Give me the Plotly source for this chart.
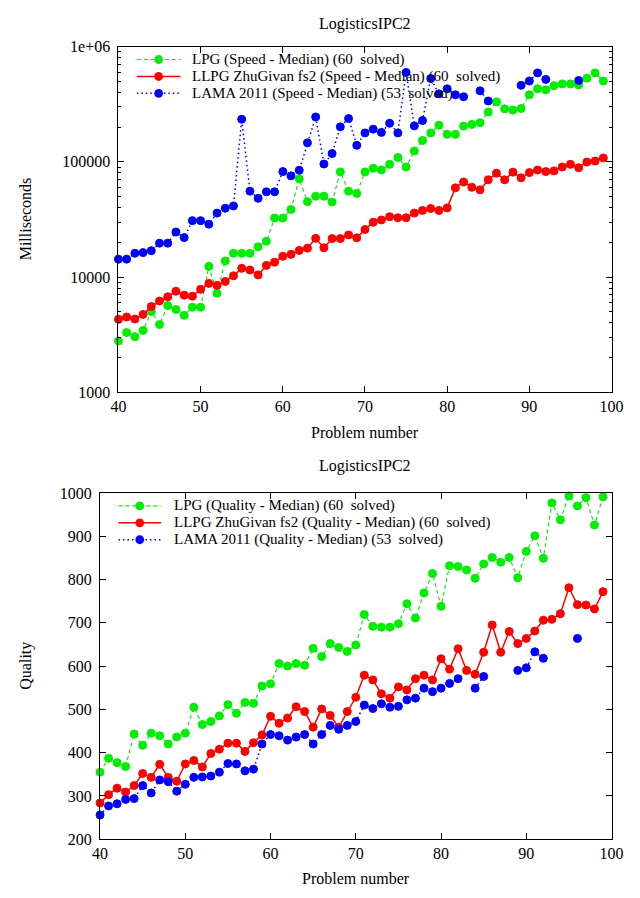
import plotly.graph_objects as go

W, H = 640, 898

problems = list(range(40, 100))

# --- Speed (milliseconds) ---
lpg_speed = [2790, 3300, 3040, 3440, 5020, 3870, 5650, 5230, 4650, 5470,
             5470, 12380, 7240, 13800, 16070, 16070, 16070, 18320, 20460, 32500,
             32500, 38550, 71200, 45100, 50300, 50300, 44800, 81700, 55600, 53100,
             81700, 87900, 85000, 95000, 109000, 90100, 124000, 153000, 178000, 208000,
             173000, 173000, 204000, 211000, 218000, 270000, 331000, 288000, 281000, 290000,
             382000, 430000, 421000, 458000, 474000, 474000, 465000, 532000, 591000, 502000]
llpg_speed = [4300, 4500, 4320, 4740, 5550, 6190, 6740, 7530, 6960, 6820,
              7830, 8810, 8470, 9160, 10240, 11900, 11510, 10440, 12620, 13460,
              15140, 15740, 17030, 17820, 21680, 17960, 21570, 21570, 23190, 21880,
              25880, 29900, 31290, 33370, 32700, 32700, 35870, 37840, 39360, 37840,
              39810, 59400, 66800, 60100, 57100, 69800, 79600, 69800, 81300, 72600,
              80600, 84900, 82200, 83400, 90100, 95000, 88900, 99400, 101400, 108000]
lama_speed = [14290, 14300, 16070, 16300, 16940, 19670, 19670, 24580, 21990, 30850,
              30850, 28760, 35870, 39560, 41400, 234000, 55600, 48200, 54900, 54900,
              82200, 75500, 84500, 146000, 245000, 95600, 118000, 201000, 237000, 139000,
              178000, 192000, 180000, 216000, 178000, 596000, 205000, 228000, 528000, 389000,
              430000, 382000, 367000, None, 413000, 337000, None, None, None, 461000,
              502000, 591000, 519000, None, None, None, 508000, None, None, None]

# --- Quality ---
lpg_quality = [355, 387, 377, 368, 443, 417, 445, 439, 420, 436,
               445, 505, 465, 472, 485, 511, 491, 516, 514, 554,
               559, 606, 600, 606, 602, 641, 622, 652, 643, 634,
               649, 719, 692, 690, 690, 698, 744, 711, 769, 814,
               738, 832, 830, 822, 803, 836, 851, 840, 851, 804,
               865, 901, 849, 977, 938, 993, 970, 989, 926, 991]
llpg_quality = [284, 303, 318, 309, 324, 352, 343, 373, 343, 334,
                374, 382, 367, 398, 408, 422, 422, 403, 423, 441,
                484, 468, 480, 506, 495, 459, 501, 486, 459, 495,
                528, 579, 568, 536, 526, 552, 545, 571, 579, 568,
                617, 593, 640, 590, 581, 632, 695, 632, 680, 652,
                664, 681, 706, 708, 721, 781, 742, 741, 732, 772]
lama_quality = [256, 277, 282, 292, 294, 324, 307, 337, 333, 311,
                327, 343, 344, 346, 355, 375, 374, 358, 362, 420,
                442, 439, 429, 436, 442, 420, 442, 463, 454, 463,
                472, 510, 502, 513, 505, 507, 522, 526, 549, 541,
                549, 560, 571, None, 549, 576, None, None, None, 590,
                596, 633, 618, None, None, None, 664, None, None, None]

speed_names = ["LPG (Speed - Median) (60\u00a0 solved)",
               "LLPG ZhuGivan fs2 (Speed - Median) (60\u00a0 solved)",
               "LAMA 2011 (Speed - Median) (53\u00a0 solved)"]
quality_names = ["LPG (Quality - Median) (60\u00a0 solved)",
                 "LLPG ZhuGivan fs2 (Quality - Median) (60\u00a0 solved)",
                 "LAMA 2011 (Quality - Median) (53\u00a0 solved)"]

x_ticks = [40, 50, 60, 70, 80, 90, 100]
speed_ticks = [1000, 10000, 100000, 1000000]
speed_ticktext = ["1000", "10000", "100000", "1e+06"]
quality_ticks = [200, 300, 400, 500, 600, 700, 800, 900, 1000]

GREEN, RED, BLUE = "#00ee00", "#ff0000", "#0000ff"
colors = [GREEN, RED, BLUE]
dashes = ["4px,3px", "solid", "1.5px,3px"]
widths = [1.1, 1.5, 1.5]
FONT = "Liberation Serif"

fig = go.Figure()

def add_series(ys_list, names, xa, ya):
    for ys, name, c, d, w in zip(ys_list, names, colors, dashes, widths):
        fig.add_trace(go.Scatter(
            x=problems, y=ys, name=name, mode="lines+markers",
            xaxis=xa, yaxis=ya, connectgaps=False, cliponaxis=False,
            line=dict(color=c, dash=d, width=w),
            marker=dict(symbol="circle", size=8, color=c, line=dict(color=c, width=1)),
            showlegend=False, hoverinfo="skip"))

add_series([lpg_speed, llpg_speed, lama_speed], speed_names, "x", "y")
add_series([lpg_quality, llpg_quality, lama_quality], quality_names, "x2", "y2")

def px2x(px):
    return px / W

def py2y(py):
    return 1 - py / H

top_x = [114, 623]
top_y = [39.3, 391.7]
bot_x = [95, 623]
bot_y = [494.3, 847.3]

minor_log = [m * 10 ** e for e in (3, 4, 5) for m in range(2, 10)]

axis_common = dict(showline=True, linecolor="black", linewidth=1, mirror="allticks",
                   ticks="inside", tickcolor="black", ticklen=6, tickwidth=1,
                   showgrid=False, zeroline=False,
                   tickfont=dict(family=FONT, size=16, color="black"))

fig.update_layout(
    width=W, height=H, margin=dict(l=0, r=0, t=0, b=0),
    paper_bgcolor="white", plot_bgcolor="white", showlegend=False,
    xaxis=dict(domain=[px2x(top_x[0]), px2x(top_x[1])], range=[40, 100],
               tickmode="array", tickvals=x_ticks, anchor="y", **axis_common),
    yaxis=dict(domain=[py2y(top_y[1]), py2y(top_y[0])], type="log", range=[3, 6],
               tickmode="array", tickvals=speed_ticks, ticktext=speed_ticktext,
               anchor="x", ticklabelstandoff=4,
               minor=dict(tickmode="array", tickvals=minor_log, ticks="inside",
                          ticklen=3, tickcolor="black", showgrid=False),
               **axis_common),
    xaxis2=dict(domain=[px2x(bot_x[0]), px2x(bot_x[1])], range=[40, 100],
                tickmode="array", tickvals=x_ticks, anchor="y2", **axis_common),
    yaxis2=dict(domain=[py2y(bot_y[1]), py2y(bot_y[0])], range=[200, 1000],
                tickmode="array", tickvals=quality_ticks, anchor="x2",
                ticklabelstandoff=4, **axis_common),
)

annotations = []
def text_ann(txt, x, y, size=16, **kw):
    d = dict(text=txt, x=x, y=y, xref="paper", yref="paper", showarrow=False,
             font=dict(family=FONT, size=size, color="black"))
    d.update(kw)
    annotations.append(d)

# titles and axis labels
text_ann("LogisticsIPC2", px2x(368), py2y(16), xanchor="center", yanchor="middle")
text_ann("Problem number", px2x(369), py2y(433), xanchor="center", yanchor="middle")
text_ann("Milliseconds", px2x(19), py2y(215), xanchor="center", yanchor="middle", textangle=-90)
text_ann("LogisticsIPC2", px2x(368), py2y(467), xanchor="center", yanchor="middle")
text_ann("Problem number", px2x(359), py2y(887), xanchor="center", yanchor="middle")
text_ann("Quality", px2x(19), py2y(670), xanchor="center", yanchor="middle", textangle=-90)

# manual legends
shapes = []
def legend_block(names, rows_py, line_x0, line_x1, text_x):
    for name, py, c, d, w in zip(names, rows_py, colors, dashes, widths):
        shapes.append(dict(type="line", xref="paper", yref="paper",
                           x0=px2x(line_x0), x1=px2x(line_x1), y0=py2y(py), y1=py2y(py),
                           line=dict(color=c, dash=d, width=w)))
        cx = (line_x0 + line_x1) / 2
        r = 4.5
        shapes.append(dict(type="circle", xref="paper", yref="paper",
                           x0=px2x(cx - r), x1=px2x(cx + r), y0=py2y(py - r), y1=py2y(py + r),
                           fillcolor=c, line=dict(color=c, width=0)))
        text_ann(name, px2x(text_x), py2y(py), size=15, xanchor="left", yanchor="middle")

legend_block(speed_names, [52.5, 69.8, 87.0], 133, 178, 188)
legend_block(quality_names, [507.5, 524.8, 542.0], 114, 158, 169)

fig.update_layout(annotations=annotations, shapes=shapes)

fig.write_html("out.html", config={"displayModeBar": False},
               post_script="document.body.style.margin='0';document.body.style.padding='0';")
